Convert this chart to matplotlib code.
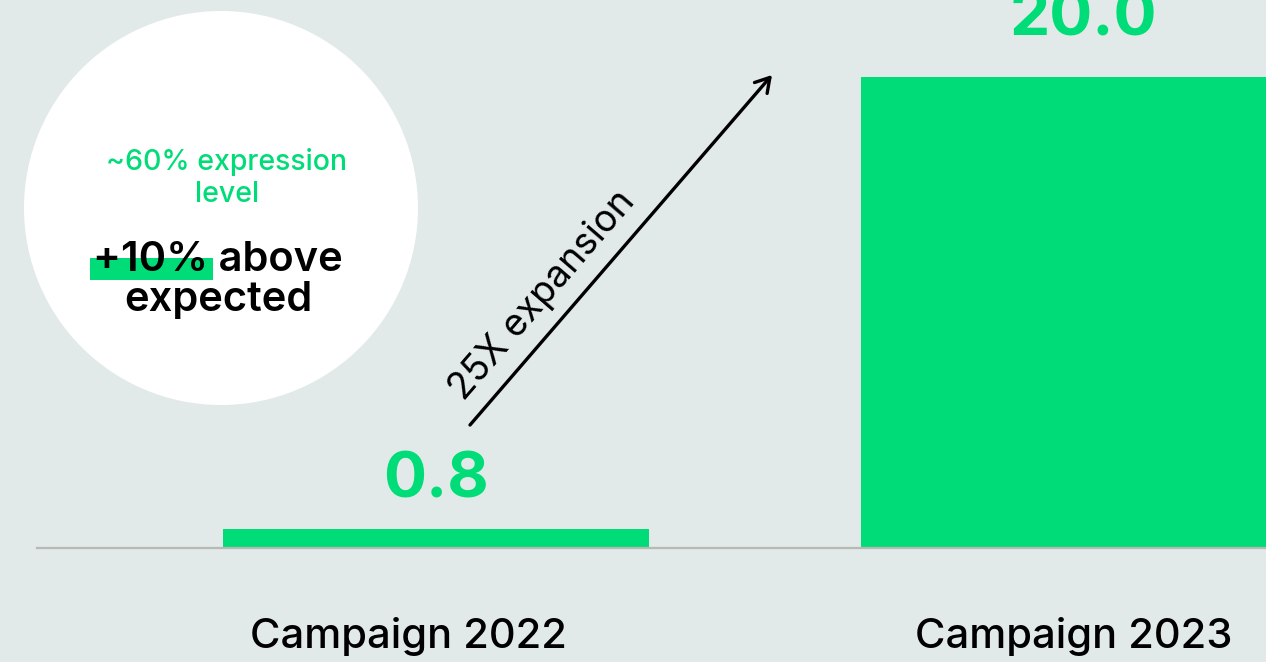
import matplotlib
matplotlib.use("Agg")
import matplotlib.pyplot as plt
from matplotlib.patches import Ellipse, Rectangle

categories = ["Campaign 2022", "Campaign 2023"]
values = [0.8, 20.0]
value_labels = ["0.8", "20.0"]
circle_line1 = "~60% expression\nlevel"
circle_line2 = "+10% above\nexpected"
arrow_label = "25X expansion"

BG = "#E1EAE9"
GREEN = "#00DC78"
FONT = "Inter"

W, H = 1266, 662
fig = plt.figure(figsize=(W / 100, H / 100), dpi=100, facecolor=BG)

def fx(px):
    return px / W

def fy(py):
    return 1 - py / H

ax = fig.add_axes([fx(37), fy(548), fx(1266 - 37), 548 / H])
ax.set_facecolor("none")
ax.set_xlim(-0.625, 1.301)
ax.set_ylim(0, 23.27)
x = list(range(len(categories)))
ax.bar(x, values, width=0.668, color=GREEN, zorder=2)
for s in ["top", "right", "left"]:
    ax.spines[s].set_visible(False)
ax.spines["bottom"].set_color("#B7BAB4")
ax.spines["bottom"].set_linewidth(1.6)
ax.set_yticks([])
ax.set_xticks([])

label_offsets = [-27, 0]
for xi, cat, off in zip(x, categories, label_offsets):
    ax.annotate(cat, (xi, 0), xytext=(off * 0.72, -88 * 0.72), textcoords="offset points",
                ha="center", va="center", fontsize=30, fontweight="medium",
                family=FONT, color="black", annotation_clip=False)

value_offsets = [(0, 32), (9, 42)]
for xi, v, lab, (ox, oy) in zip(x, values, value_labels, value_offsets):
    ax.annotate(lab, (xi, v), xytext=(ox * 0.72, oy * 0.72), textcoords="offset points",
                ha="center", va="baseline", fontsize=46, fontweight="bold",
                family=FONT, color=GREEN, annotation_clip=False)

# circle callout
circ = Ellipse((fx(221), fy(208)), 394 / W, 394 / H, transform=fig.transFigure,
               facecolor="white", edgecolor="none", zorder=1)
fig.patches.append(circ)
fig.text(fx(227), fy(178), circle_line1, ha="center", va="center", fontsize=20.5,
         fontweight="medium", family=FONT, color=GREEN, linespacing=1.25)
hl = Rectangle((fx(90), fy(280)), fx(123), 22 / H, transform=fig.transFigure,
               facecolor=GREEN, edgecolor="none", zorder=2)
fig.patches.append(hl)
fig.text(fx(218), fy(280), circle_line2, ha="center", va="center", fontsize=30,
         fontweight="semibold", family=FONT, color="black", linespacing=1.08, zorder=3)

# arrow
ax.annotate("", xy=(fx(772), fy(75)), xytext=(fx(470), fy(425)),
            xycoords="figure fraction", textcoords="figure fraction",
            arrowprops=dict(arrowstyle="->,head_length=1.0,head_width=0.6", lw=2.4,
                            color="black", shrinkA=0, shrinkB=0))
fig.text(fx(543), fy(295), arrow_label, ha="center", va="center", rotation=49.2,
         rotation_mode="anchor", fontsize=27, family=FONT, fontweight="normal", color="black")

fig.savefig("out.png", dpi=100, facecolor=BG)
